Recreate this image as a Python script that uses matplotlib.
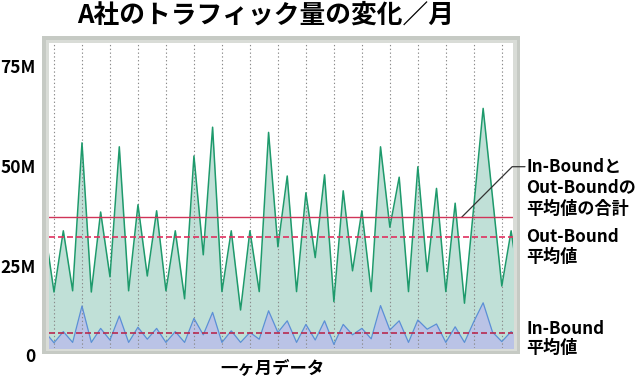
"""A社のトラフィック量の変化 — In/Out-Bound の月次推移と平均線."""
import matplotlib
matplotlib.use("Agg")
import matplotlib.pyplot as plt
from matplotlib.patches import Rectangle

plt.rcParams["font.family"] = ["Noto Sans CJK JP", "DejaVu Sans"]
plt.rcParams["font.weight"] = "bold"
plt.rcParams["axes.unicode_minus"] = False

W, H = 637, 378

# データ (単位: M)
out_bound = [34.5, 18.5, 33.8, 18.8, 55.8, 18.5, 38.5, 22.3, 54.8, 18.8,
             40.3, 22.5, 38.8, 18.8, 33.8, 16.8, 52.5, 27.8, 59.7, 18.6,
             33.8, 14.0, 33.8, 18.6, 58.4, 29.8, 47.5, 18.6, 43.3, 27.1,
             47.8, 16.1, 43.8, 23.8, 38.8, 18.6, 54.8, 34.7, 47.2, 18.6,
             49.8, 23.6, 44.4, 18.6, 40.7, 15.7, 40.0, 64.4, 42.3, 20.0,
             33.8, 18.0]
in_bound = [8.6, 5.8, 8.6, 5.9, 15.0, 5.9, 9.4, 6.5, 12.5, 5.9,
            9.7, 6.7, 9.4, 5.9, 8.6, 5.9, 11.9, 7.8, 13.4, 5.9,
            8.8, 5.9, 8.4, 6.7, 13.8, 8.4, 11.3, 5.9, 10.4, 6.5,
            11.3, 5.4, 10.4, 7.8, 9.4, 6.8, 15.1, 9.0, 11.3, 5.9,
            11.5, 9.2, 10.5, 5.9, 9.8, 5.9, 11.1, 15.8, 8.5, 6.1,
            8.6, 6.5]
days = list(range(len(out_bound)))
out_avg = 32.3
in_avg = 8.3
total_avg = 37.2

ytick_vals = [25, 50, 75]
ytick_labels = ["25M", "50M", "75M"]

GREEN, GREEN_FILL = "#1e9a6c", "#c0e0d7"
BLUE, BLUE_FILL = "#5b8fd6", "#bac3e6"
RED = "#e0305f"


def px(x, y):
    """左上原点のピクセル -> figure 座標."""
    return x / W, 1 - y / H


fig = plt.figure(figsize=(W / 100, H / 100), dpi=100)
fig.patch.set_facecolor("white")

# 灰色の枠
fig.add_artist(Rectangle(px(42, 354), 478 / W, 318 / H, transform=fig.transFigure,
                         facecolor="#c6cac4", edgecolor="none", zorder=0))
fig.add_artist(Rectangle(px(46, 351), 471 / W, 311 / H, transform=fig.transFigure,
                         facecolor="#d9dcd7", edgecolor="none", zorder=0))

ax = fig.add_axes([49 / W, 1 - 348 / H, (513 - 49) / W, (348 - 43) / H], zorder=1)
ybot = 4.5
ax.set_xlim(0.464, 50.2)
ax.set_ylim(ybot, 80.75)

ax.fill_between(days, out_bound, ybot - 5, color=GREEN_FILL, linewidth=0, zorder=1)
ax.fill_between(days, in_bound, ybot - 5, color=BLUE_FILL, linewidth=0, zorder=1.5)

for gx in days[1::3]:
    ax.axvline(gx, color="#8a8a8a", linewidth=0.8, linestyle=(0, (1.2, 2.2)), zorder=2)

ax.plot(days, out_bound, color=GREEN, linewidth=1.1, zorder=3)
ax.plot(days, in_bound, color=BLUE, linewidth=0.9, zorder=3)

ax.axhline(total_avg, color="#d03458", linewidth=1.0, zorder=4)
ax.axhline(out_avg, color=RED, linewidth=1.2, linestyle=(0, (3.6, 1.8)), zorder=4)
ax.axhline(in_avg, color="#b82a50", linewidth=1.2, linestyle=(0, (3.6, 1.8)), zorder=4)

ax.set_yticks([ybot] + ytick_vals)
ax.set_yticklabels(["0"] + ytick_labels)
ax.set_xticks([])
ax.tick_params(axis="y", length=0, pad=9.5, labelsize=12.5, labelcolor="#000000")
ax.get_yticklabels()[0].set_va("top")
for s in ax.spines.values():
    s.set_visible(False)

# 引き出し線
ax.annotate("", xy=(44.7, total_avg), xycoords="data",
            xytext=(525, H - 166.7), textcoords="figure pixels",
            arrowprops=dict(arrowstyle="-", color="#333333", lw=0.9,
                            shrinkA=0, shrinkB=0,
                            connectionstyle="angle,angleA=0,angleB=45,rad=0"),
            annotation_clip=False)

# テキスト
fig.text(*px(77, 15), "A社のトラフィック量の変化／月", fontsize=18.5,
         fontweight="bold", ha="left", va="center")
fig.text(*px(220, 369), "一ヶ月データ", fontsize=12.5, fontweight="bold",
         ha="left", va="center")

notes = [(166.7, "In-Boundと"), (187.5, "Out-Boundの"), (208.5, "平均値の合計"),
         (237.5, "Out-Bound"), (256.5, "平均値"),
         (328.5, "In-Bound"), (347.5, "平均値")]
for ny, s in notes:
    fig.text(*px(526, ny), s, fontsize=12.3, fontweight="bold", ha="left", va="center")

fig.savefig("out.png", dpi=100, facecolor="white")
